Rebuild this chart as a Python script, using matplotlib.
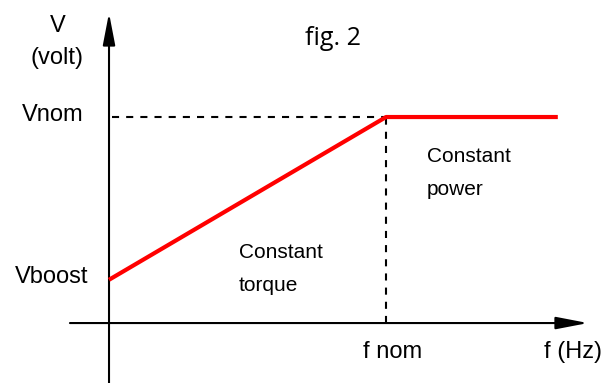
import matplotlib.pyplot as plt

# V/f curve (normalised: f_nom = 1, V_nom = 1)
f_points = [0.0, 1.0, 1.62]
v_points = [0.21, 1.0, 1.0]
f_nom = 1.0
v_nom = 1.0
v_boost = 0.21

# labels
y_label = ['V', '(volt)']
v_tick_labels = ['Vnom', 'Vboost']
f_tick_labels = ['f nom', 'f (Hz)']
region_labels = [['Constant', 'torque'], ['Constant', 'power']]
title = 'fig. 2'

plt.rcParams['font.family'] = ['Liberation Sans', 'DejaVu Sans']

fig = plt.figure(figsize=(6.11, 3.83), dpi=100)
ax = fig.add_axes([0, 0, 1, 1])
ax.set_xlim(-0.3935, 1.812)
ax.set_ylim(-0.291, 1.568)
ax.axis('off')

# axes with arrow heads
arrow = dict(arrowstyle='-|>,head_length=1.3,head_width=0.25', lw=1.5,
             color='black', mutation_scale=15, shrinkA=0, shrinkB=0)
ax.annotate('', xy=(1.729, 0), xytext=(-0.141, 0), arrowprops=arrow)
ax.annotate('', xy=(0, 1.505), xytext=(0, -0.291), arrowprops=arrow)

# dashed guide lines
dash = (0, (3.4, 3.4))
ax.plot([0.012, f_nom], [v_nom, v_nom], color='black', lw=1.5, linestyle=dash)
ax.plot([f_nom, f_nom], [0, v_nom], color='black', lw=1.5, linestyle=dash)

# V/f curve
ax.plot(f_points, v_points, color='#ff0000', lw=3, solid_capstyle='butt',
        zorder=3)

# texts
ax.text(-0.184, 1.442, y_label[0], fontsize=17, ha='center', va='center')
ax.text(-0.188, 1.286, y_label[1], fontsize=17, ha='center', va='center')
ax.text(-0.202, v_nom + 0.01, v_tick_labels[0], fontsize=17, ha='center', va='center')
ax.text(-0.206, v_boost + 0.015, v_tick_labels[1], fontsize=17, ha='center', va='center')
ax.text(1.022, -0.141, f_tick_labels[0], fontsize=17, ha='center', va='center')
ax.text(1.675, -0.141, f_tick_labels[1], fontsize=17, ha='center', va='center')
ax.text(0.809, 1.379, title, fontsize=18, ha='center', va='center',
        family=['Open Sans', 'DejaVu Sans'])

ax.text(0.469, 0.340, region_labels[0][0], fontsize=15, ha='left', va='center')
ax.text(0.469, 0.184, region_labels[0][1], fontsize=15, ha='left', va='center')
ax.text(1.148, 0.806, region_labels[1][0], fontsize=15, ha='left', va='center')
ax.text(1.148, 0.646, region_labels[1][1], fontsize=15, ha='left', va='center')

fig.savefig('out.png', dpi=100)
